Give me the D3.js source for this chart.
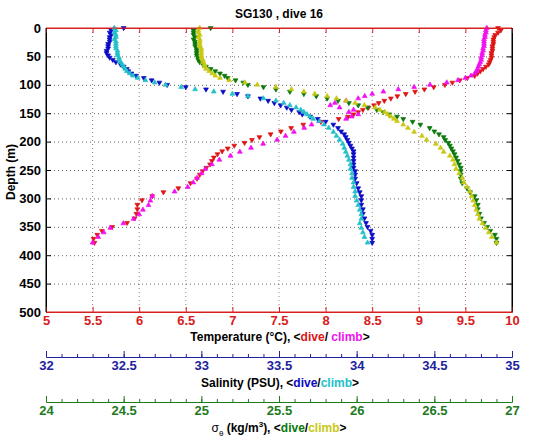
<!DOCTYPE html>
<html><head><meta charset="utf-8">
<script src="https://cdn.jsdelivr.net/npm/d3@7"></script>
<style>
body{margin:0;background:#fff}
text{font-family:"Liberation Sans",Arial,Helvetica,sans-serif;font-weight:bold}
</style>
</head><body>
<svg id="chart" width="535" height="442"></svg>
<script>
// ---------- data ----------
const depthTicks = [0,50,100,150,200,250,300,350,400,450,500];
const tempTicks = [5,5.5,6,6.5,7,7.5,8,8.5,9,9.5,10];
const salTicks = [32,32.5,33,33.5,34,34.5,35];
const sigTicks = [24,24.5,25,25.5,26,26.5,27];

const depthDive = [0,4,8,12,16,20,24,28,32,36,40,44,48,52,56,60,64,68,72,76,80,84,88,92,96,100,104,108,112,116,120,124,128,132,136,140,144,148,152,156,160,
  165,170,176,182,187,192,197,202,207,212,217,222,228,234,240,246,252,258,265,273,282,289,296,303,311,319,327,335,343,350,357,364,371,378];
const tempDive = [9.85,9.88,9.85,9.82,9.81,9.8,9.8,9.8,9.79,9.79,9.79,9.78,9.78,9.78,9.77,9.76,9.75,9.72,9.69,9.66,9.63,9.6,9.52,9.44,9.36,9.28,9.16,9.06,8.96,8.86,8.77,8.7,8.63,8.57,8.52,8.46,8.4,8.35,8.3,8.24,8.14,
  7.95,7.76,7.63,7.52,7.41,7.29,7.21,7.13,7.02,6.95,6.89,6.84,6.8,6.78,6.76,6.72,6.68,6.65,6.62,6.55,6.42,6.26,6.14,6.03,5.98,5.98,5.97,5.95,5.87,5.71,5.6,5.55,5.51,5.52];
const salDive = [32.5,32.42,32.41,32.42,32.41,32.41,32.41,32.4,32.4,32.4,32.39,32.39,32.4,32.41,32.43,32.45,32.48,32.5,32.52,32.53,32.55,32.58,32.63,32.68,32.73,32.78,32.9,33.03,33.14,33.23,33.3,33.38,33.43,33.47,33.51,33.55,33.58,33.63,33.65,33.7,33.75,
  33.8,33.85,33.88,33.9,33.92,33.93,33.94,33.95,33.96,33.97,33.98,33.98,33.98,33.98,33.98,33.98,33.99,33.99,33.99,34.0,34.01,34.02,34.03,34.03,34.03,34.04,34.04,34.05,34.06,34.07,34.09,34.1,34.1,34.1];
const sigDive = [25.06,24.95,24.95,24.95,24.96,24.95,24.96,24.96,24.96,24.97,24.97,24.97,24.97,24.98,24.98,24.99,25.01,25.03,25.06,25.09,25.12,25.15,25.17,25.22,25.27,25.3,25.4,25.48,25.57,25.66,25.74,25.81,25.88,25.95,26.01,26.07,26.13,26.17,26.21,26.26,26.3,
  26.36,26.41,26.47,26.5,26.53,26.56,26.57,26.59,26.6,26.61,26.62,26.63,26.64,26.65,26.66,26.67,26.67,26.67,26.67,26.68,26.71,26.73,26.76,26.77,26.78,26.78,26.79,26.8,26.82,26.84,26.86,26.89,26.9,26.9];

const depthClimb = [0,4,8,12,16,20,24,28,32,36,40,44,48,52,56,60,64,68,72,76,80,84,88,92,96,100,104,108,112,116,120,124,128,132,136,140,144,148,152,156,160,
  164,170,176,183,190,197,204,211,218,225,232,240,248,256,264,272,280,288,296,304,312,320,328,336,344,352,360,368,378];
const tempClimb = [9.73,9.72,9.72,9.71,9.71,9.7,9.7,9.7,9.7,9.69,9.69,9.68,9.68,9.67,9.67,9.66,9.65,9.64,9.63,9.62,9.6,9.56,9.5,9.42,9.3,9.12,8.95,8.78,8.62,8.5,8.42,8.35,8.22,8.1,8.05,8.15,8.3,8.25,8.35,8.28,8.22,
  7.93,7.85,7.77,7.66,7.57,7.48,7.33,7.2,7.08,6.98,6.86,6.78,6.71,6.67,6.62,6.58,6.52,6.38,6.14,6.12,6.1,6.04,6.0,5.94,5.83,5.69,5.62,5.56,5.5];
const salClimb = [32.44,32.45,32.44,32.45,32.45,32.44,32.45,32.45,32.45,32.45,32.46,32.46,32.46,32.47,32.47,32.48,32.49,32.5,32.51,32.52,32.54,32.56,32.59,32.64,32.7,32.77,32.87,32.96,33.08,33.2,33.3,33.4,33.48,33.53,33.57,33.61,33.64,33.66,33.68,33.7,33.72,
  33.76,33.79,33.82,33.85,33.87,33.89,33.91,33.92,33.93,33.94,33.95,33.96,33.96,33.97,33.97,33.98,33.98,33.99,33.99,34.0,34.01,34.02,34.03,34.03,34.02,34.03,34.04,34.05,34.07];
const sigClimb = [24.99,24.98,24.98,24.99,24.98,24.99,24.99,24.99,24.99,25.0,25.0,25.0,25.0,25.0,25.01,25.01,25.02,25.02,25.03,25.05,25.07,25.09,25.12,25.18,25.28,25.36,25.48,25.58,25.66,25.73,25.81,25.87,25.93,25.99,26.05,26.12,26.15,26.18,26.2,26.22,26.24,
  26.26,26.3,26.33,26.37,26.42,26.45,26.51,26.54,26.56,26.6,26.62,26.63,26.64,26.66,26.68,26.69,26.71,26.73,26.74,26.75,26.76,26.77,26.78,26.79,26.81,26.83,26.85,26.87,26.9];

// ---------- layout ----------
const svg = d3.select("#chart");
const L = 46, R = 512, T = 28, B = 312;
const y = d3.scaleLinear().domain([0,500]).range([T,B]);
const xT = d3.scaleLinear().domain([5,10]).range([L,R]);
const xS = d3.scaleLinear().domain([32,35]).range([L,R]);
const xG = d3.scaleLinear().domain([24,27]).range([L,R]);

const cRedAxis = "#d82020", cBlueAxis = "#22229a", cGreenAxis = "#1d7a1d";
const tickFont = "13px";

// grid
const g = svg.append("g");
g.selectAll(".vg").data(tempTicks.slice(1,-1)).enter().append("line")
  .attr("x1",d=>xT(d)).attr("x2",d=>xT(d)).attr("y1",T).attr("y2",B)
  .attr("stroke","#b07878").attr("stroke-width",1).attr("stroke-dasharray","1,3");
g.selectAll(".hg").data(depthTicks.slice(1,-1)).enter().append("line")
  .attr("x1",L).attr("x2",R).attr("y1",d=>y(d)+0.5).attr("y2",d=>y(d)+0.5)
  .attr("stroke","#606060").attr("stroke-width",1).attr("stroke-dasharray","1,3");

// axes
const fmt = d => String(d);
const yl = svg.append("g").attr("transform",`translate(${L},0)`)
  .call(d3.axisLeft(y).tickValues(depthTicks).tickSize(-5).tickSizeOuter(0).tickPadding(5).tickFormat(fmt));
const yr = svg.append("g").attr("transform",`translate(${R},0)`)
  .call(d3.axisRight(y).tickValues(depthTicks).tickSize(-5).tickSizeOuter(0).tickFormat(""));
[yl,yr].forEach(a=>{a.selectAll("path,line").attr("stroke","#000");a.selectAll("text").attr("fill","#000").style("font-size",tickFont);});

const tb = svg.append("g").attr("transform",`translate(0,${B})`)
  .call(d3.axisBottom(xT).tickValues(tempTicks).tickSize(-5).tickSizeOuter(0).tickPadding(4).tickFormat(fmt));
const tt = svg.append("g").attr("transform",`translate(0,${T})`)
  .call(d3.axisTop(xT).tickValues(tempTicks).tickSize(-5).tickSizeOuter(0).tickFormat(""));
[tb,tt].forEach(a=>{a.selectAll("path,line").attr("stroke",cRedAxis);a.selectAll("text").attr("fill",cRedAxis).style("font-size",tickFont);});

function extraAxis(scale, ticks, yPos, color){
  const minor = d3.range(Math.round(scale.domain()[0]*10), Math.round(scale.domain()[1]*10)+1).map(v=>v/10);
  const m = svg.append("g").attr("transform",`translate(0,${yPos})`)
    .call(d3.axisBottom(scale).tickValues(minor).tickSize(-3).tickSizeOuter(0).tickFormat(""));
  const a = svg.append("g").attr("transform",`translate(0,${yPos})`)
    .call(d3.axisBottom(scale).tickValues(ticks).tickSize(-6).tickSizeOuter(0).tickPadding(4).tickFormat(fmt));
  [m,a].forEach(s=>{s.selectAll("path,line").attr("stroke",color);s.selectAll("text").attr("fill",color).style("font-size",tickFont);});
}
extraAxis(xS, salTicks, 357, cBlueAxis);
extraAxis(xG, sigTicks, 402, cGreenAxis);

// series
function plot(xs, vals, depths, color, up){
  const sym = d3.symbol().type(d3.symbolTriangle).size(10);
  svg.append("g").selectAll("path").data(vals).enter().append("path")
    .attr("d", sym)
    .attr("transform",(d,i)=>`translate(${xs(d)},${y(depths[i])}) rotate(${up?0:180})`)
    .attr("fill",color).attr("stroke",color).attr("stroke-width",0.7);
}
plot(xT, tempDive, depthDive, "#e01414", false);
plot(xT, tempClimb, depthClimb, "#f010f0", true);
plot(xS, salDive, depthDive, "#0a0ac8", false);
plot(xS, salClimb, depthClimb, "#22c0c8", true);
plot(xG, sigDive, depthDive, "#0a780a", false);
plot(xG, sigClimb, depthClimb, "#c8c814", true);

// frame
svg.append("line").attr("x1",L).attr("x2",R).attr("y1",T).attr("y2",T).attr("stroke",cRedAxis);
svg.append("line").attr("x1",L).attr("x2",R).attr("y1",B).attr("y2",B).attr("stroke",cRedAxis);
svg.append("line").attr("x1",L).attr("x2",L).attr("y1",T).attr("y2",B).attr("stroke","#000");
svg.append("line").attr("x1",R).attr("x2",R).attr("y1",T).attr("y2",B).attr("stroke","#000");

// titles
svg.append("text").attr("x",279).attr("y",18).attr("text-anchor","middle").style("font-size","12px").attr("fill","#000").text("SG130 , dive 16");
svg.append("text").attr("transform","translate(15,172) rotate(-90)").attr("text-anchor","middle").style("font-size","12px").attr("fill","#000").text("Depth (m)");

const t1 = svg.append("text").attr("x",280).attr("y",341).attr("text-anchor","middle").style("font-size","12px").attr("fill","#000");
t1.append("tspan").text("Temperature (°C), <");
t1.append("tspan").attr("fill","#e01414").text("dive");
t1.append("tspan").text("/ ");
t1.append("tspan").attr("fill","#f010f0").text("climb");
t1.append("tspan").text(">");

const t2 = svg.append("text").attr("x",280).attr("y",387).attr("text-anchor","middle").style("font-size","12px").attr("fill","#000");
t2.append("tspan").text("Salinity (PSU), <");
t2.append("tspan").attr("fill","#0a0ac8").text("dive");
t2.append("tspan").text("/");
t2.append("tspan").attr("fill","#22c0c8").text("climb");
t2.append("tspan").text(">");

const t3 = svg.append("text").attr("x",279).attr("y",432).attr("text-anchor","middle").style("font-size","12px").attr("fill","#000");
t3.append("tspan").style("font-weight","normal").text("σ");
t3.append("tspan").attr("dy",4).style("font-size","8px").style("font-weight","normal").text("θ");
t3.append("tspan").attr("dy",-4).text(" (kg/m");
t3.append("tspan").attr("dy",-5).style("font-size","8px").text("3");
t3.append("tspan").attr("dy",5).text("), <");
t3.append("tspan").attr("fill","#0a780a").text("dive");
t3.append("tspan").text("/");
t3.append("tspan").attr("fill","#c8c814").text("climb");
t3.append("tspan").text(">");
</script>
</body></html>
